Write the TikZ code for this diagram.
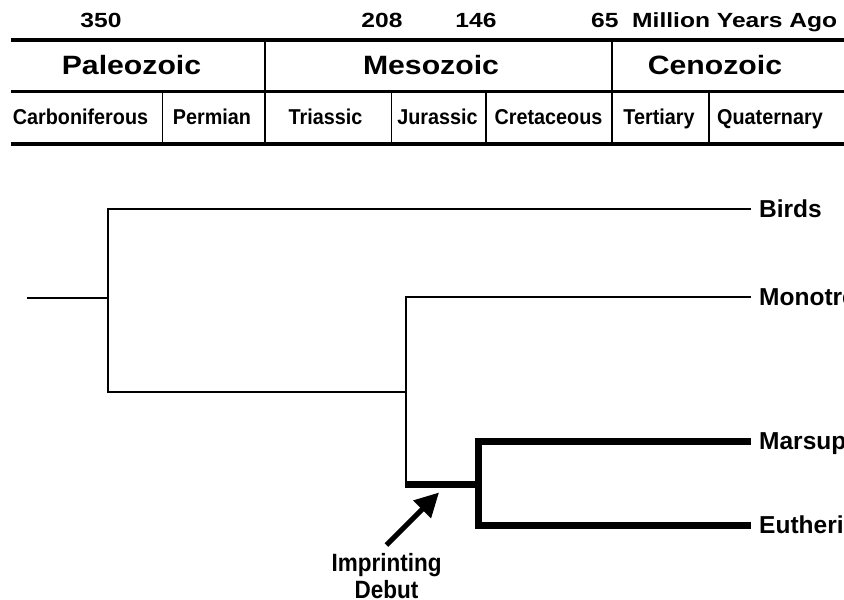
\documentclass[tikz,border=0pt]{standalone}
\usepackage{fontspec}
\setmainfont{Liberation Sans}
\newfontfamily\numf[FakeStretch=1.2]{Liberation Sans}
\newfontfamily\eraf[FakeStretch=1.14]{Liberation Sans}
\newfontfamily\perf[FakeStretch=0.92]{Liberation Sans}
\newfontfamily\impf[FakeStretch=0.9]{Liberation Sans}
\usetikzlibrary{arrows.meta}
\begin{document}
\begin{tikzpicture}[x=1pt,y=-1pt,
  numtxt/.style={font=\numf\bfseries\fontsize{20.5}{24}\selectfont, inner sep=0pt, anchor=base},
  eratxt/.style={font=\eraf\bfseries\fontsize{26.5}{30}\selectfont, inner sep=0pt, anchor=base},
  pertxt/.style={font=\perf\bfseries\fontsize{21.5}{26}\selectfont, inner sep=0pt, anchor=base},
  taxon/.style={font=\bfseries\fontsize{24.5}{28}\selectfont, inner xsep=8pt, inner ysep=0pt,
    text height=17.5pt, text depth=0pt, anchor=west},
  note/.style={font=\impf\bfseries\fontsize{25}{27}\selectfont, inner sep=0pt, align=center, anchor=north},
  rulethick/.style={line width=4pt},
  rulemid/.style={line width=3.5pt},
  divider/.style={line width=1.6pt},
  thinbranch/.style={line width=2.6pt, line join=miter},
  thickbranch/.style={line width=7pt, line join=miter},
  pointer/.style={line width=5pt, -{Triangle[length=24pt,width=24pt]}}
]
\useasboundingbox (0,0) rectangle (844,600);

% ---- time scale header ----
\draw[rulethick] (11,40) -- (844,40);
\draw[rulemid] (11,91.5) -- (844,91.5);
\draw[rulethick] (11,143.5) -- (844,143.5);
\draw[divider] (265,40) -- (265,143.5);
\draw[divider] (612,40) -- (612,143.5);
\draw[divider] (162.5,91.5) -- (162.5,143.5);
\draw[divider] (391.5,91.5) -- (391.5,143.5);
\draw[divider] (486,91.5) -- (486,143.5);
\draw[divider] (709,91.5) -- (709,143.5);

\node[numtxt] (m350) at (101,27) {350};
\node[numtxt] (m208) at (382,27) {208};
\node[numtxt] (m146) at (476,27) {146};
\node[numtxt, anchor=base west] (m65) at (591,27) {65};
\node[numtxt, anchor=base west] (mya) at (632,27) {Million Years Ago};

\node[eratxt] (paleo) at (131.5,74) {Paleozoic};
\node[eratxt] (meso) at (431,74) {Mesozoic};
\node[eratxt] (ceno) at (715,74) {Cenozoic};

\node[pertxt] (carb) at (80.5,124) {Carboniferous};
\node[pertxt] (perm) at (212,124) {Permian};
\node[pertxt] (tria) at (325.5,124) {Triassic};
\node[pertxt] (jura) at (437.5,124) {Jurassic};
\node[pertxt] (cret) at (548.5,124) {Cretaceous};
\node[pertxt] (tert) at (659,124) {Tertiary};
\node[pertxt] (quat) at (770,124) {Quaternary};

% ---- tree ----
\node[taxon] (birds) at (751,209) {Birds};
\node[taxon] (mono) at (751,297) {Monotremes};
\node[taxon] (mars) at (751,441) {Marsupials};
\node[taxon] (euth) at (751,525) {Eutherians};

\coordinate (root) at (27,298);
\coordinate (n1) at (108,298);
\coordinate (n1top) at (108,209);
\coordinate (n1bot) at (108,392);
\coordinate (n2) at (406,392);
\coordinate (n2top) at (406,297);
\coordinate (n2bot) at (406,484);
\coordinate (n2botL) at (405,484);
\coordinate (n3) at (478,484);
\coordinate (n3top) at (478,441);
\coordinate (n3bot) at (478,525);
\coordinate (tip) at (439,492.5);

\draw[thinbranch] (root) -- (n1);
\draw[thinbranch] (birds.west) -- (n1top) -- (n1bot) -- (n2);
\draw[thinbranch] (mono.west) -- (n2top) -- (n2bot);
\draw[thickbranch] (n2botL) -- (n3);
\draw[thickbranch] (mars.west) -- (n3top) -- (n3bot) -- (euth.west);

\node[note] (imp) at (386.5,553) {Imprinting\\Debut};
\draw[pointer] ([yshift=8pt]imp.north) -- (tip);
\end{tikzpicture}
\end{document}
